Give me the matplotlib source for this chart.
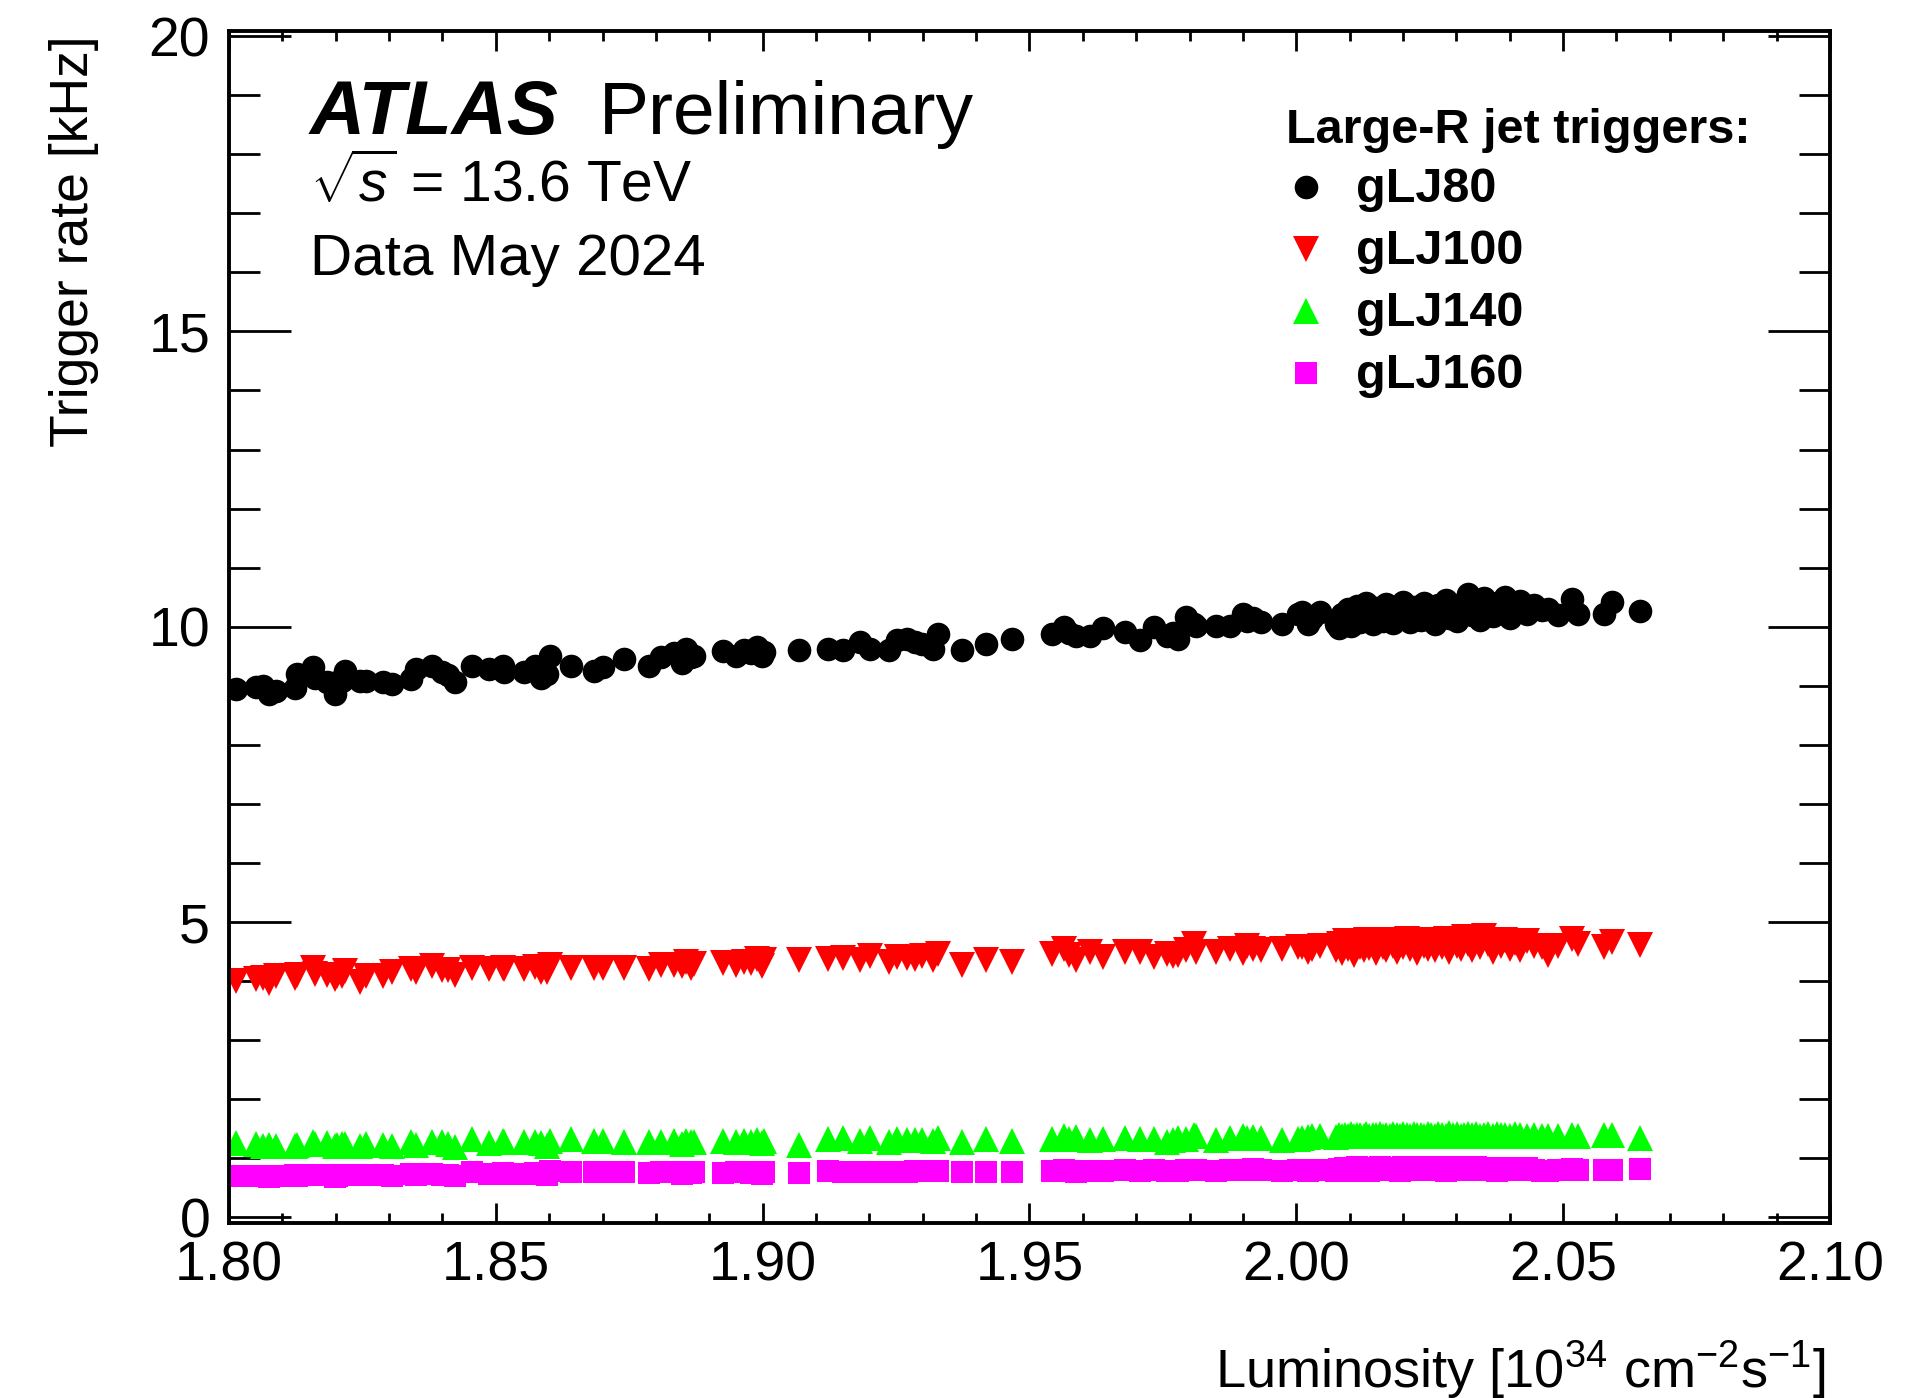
import matplotlib
matplotlib.use("Agg")
import matplotlib.pyplot as plt
from matplotlib.ticker import MultipleLocator

# luminosity of each lumi block [1e34 cm-2 s-1]
lumi = [
    1.8014, 1.8050, 1.8063, 1.8075, 1.8088, 1.8123, 1.8127, 1.8157, 1.8161, 1.8184,
    1.8198, 1.8203, 1.8212, 1.8217, 1.8245, 1.8257, 1.8288, 1.8305, 1.8342, 1.8350,
    1.8381, 1.8399, 1.8411, 1.8423, 1.8456, 1.8487, 1.8514, 1.8516, 1.8553, 1.8573,
    1.8585, 1.8595, 1.8601, 1.8640, 1.8684, 1.8701, 1.8740, 1.8787, 1.8809, 1.8833,
    1.8848, 1.8857, 1.8865, 1.8872, 1.8926, 1.8950, 1.8965, 1.8978, 1.8990, 1.8998,
    1.9003,
    1.9068, 1.9123, 1.9150, 1.9182, 1.9202, 1.9237, 1.9251, 1.9271, 1.9286, 1.9299,
    1.9320, 1.9328, 1.9374, 1.9418, 1.9468, 1.9543, 1.9564, 1.9574, 1.9588, 1.9614,
    1.9638, 1.9679, 1.9707, 1.9733, 1.9757, 1.9769, 1.9779, 1.9793, 1.9808, 1.9813,
    1.9849, 1.9875, 1.9901, 1.9907, 1.9918, 1.9933, 1.9973, 2.0004,
    2.0010, 2.0022, 2.0030, 2.0044,
    2.0075, 2.0080, 2.0086, 2.0091, 2.0097, 2.0103, 2.0108, 2.0114, 2.0120, 2.0126,
    2.0131, 2.0137, 2.0143, 2.0150, 2.0156, 2.0162, 2.0168, 2.0175, 2.0181, 2.0188,
    2.0194, 2.0200, 2.0207, 2.0213, 2.0220, 2.0226, 2.0233, 2.0240, 2.0246, 2.0253,
    2.0260, 2.0266, 2.0273, 2.0280, 2.0287, 2.0294, 2.0301, 2.0308, 2.0315, 2.0322,
    2.0330, 2.0337, 2.0345, 2.0352, 2.0360, 2.0368, 2.0376, 2.0384, 2.0392, 2.0401,
    2.0410, 2.0420, 2.0432, 2.0445, 2.0460,
    2.0472, 2.0490, 2.0516, 2.0528, 2.0577, 2.0591, 2.0644,
]

# trigger rates [kHz]
rate_glj80 = [
    8.94, 8.98, 9.00, 8.86, 8.92, 8.96, 9.20, 9.31, 9.14, 9.06,
    8.86, 9.06, 9.08, 9.25, 9.08, 9.08, 9.06, 9.03, 9.11, 9.28,
    9.34, 9.23, 9.18, 9.07, 9.34, 9.28, 9.34, 9.23, 9.23, 9.34,
    9.14, 9.20, 9.51, 9.34, 9.25, 9.31, 9.45, 9.34, 9.48, 9.56,
    9.39, 9.62, 9.48, 9.50, 9.59, 9.50, 9.60, 9.55, 9.65, 9.50,
    9.58,
    9.60, 9.63, 9.60, 9.74, 9.63, 9.60, 9.77, 9.80, 9.74, 9.70,
    9.63, 9.88, 9.60, 9.70, 9.79, 9.88, 9.99, 9.90, 9.85, 9.85,
    9.97, 9.91, 9.77, 9.99, 9.85, 9.90, 9.80, 10.16, 10.05, 10.02,
    10.02, 10.02, 10.22, 10.10, 10.14, 10.08, 10.05, 10.22,
    10.25, 10.05, 10.15, 10.25,
    10.05, 9.98, 10.22, 10.12, 10.30, 10.02, 10.18, 10.35, 10.08, 10.25,
    10.40, 10.15, 10.05, 10.32, 10.20, 10.10, 10.38, 10.22, 10.06, 10.28,
    10.15, 10.42, 10.20, 10.08, 10.33, 10.25, 10.12, 10.40, 10.18, 10.30,
    10.05, 10.36, 10.22, 10.45, 10.15, 10.28, 10.10, 10.38, 10.24, 10.55,
    10.20, 10.35, 10.12, 10.48, 10.28, 10.18, 10.40, 10.25, 10.50, 10.15,
    10.32, 10.44, 10.22, 10.36, 10.28,
    10.30, 10.20, 10.47, 10.22, 10.22, 10.42, 10.26,
]

rate_glj100 = [
    4.01, 4.03, 4.05, 3.97, 4.08, 4.05, 4.10, 4.22, 4.12, 4.10,
    4.03, 4.09, 4.09, 4.17, 3.99, 4.09, 4.08, 4.15, 4.21, 4.15,
    4.25, 4.19, 4.18, 4.11, 4.22, 4.21, 4.22, 4.20, 4.21, 4.24,
    4.15, 4.16, 4.28, 4.22, 4.22, 4.23, 4.23, 4.21, 4.27, 4.27,
    4.25, 4.33, 4.23, 4.29, 4.31, 4.28, 4.32, 4.30, 4.38, 4.25,
    4.35,
    4.35, 4.38, 4.39, 4.35, 4.42, 4.32, 4.40, 4.39, 4.38, 4.43,
    4.36, 4.46, 4.28, 4.36, 4.32, 4.46, 4.54, 4.44, 4.35, 4.49,
    4.41, 4.49, 4.49, 4.40, 4.46, 4.43, 4.44, 4.52, 4.62, 4.50,
    4.49, 4.54, 4.48, 4.60, 4.55, 4.52, 4.54, 4.57,
    4.57, 4.50, 4.54, 4.60,
    4.52, 4.62, 4.48, 4.68, 4.55, 4.60, 4.45, 4.66, 4.58, 4.52,
    4.70, 4.56, 4.63, 4.48, 4.67, 4.58, 4.53, 4.69, 4.60, 4.50,
    4.65, 4.57, 4.71, 4.54, 4.62, 4.48, 4.68, 4.59, 4.55, 4.70,
    4.52, 4.64, 4.58, 4.72, 4.50, 4.66, 4.60, 4.55, 4.74, 4.62,
    4.53, 4.68, 4.58, 4.76, 4.62, 4.50, 4.67, 4.59, 4.70, 4.55,
    4.64, 4.52, 4.68, 4.60, 4.57,
    4.44, 4.60, 4.71, 4.63, 4.57, 4.66, 4.61,
]

rate_glj140 = [
    1.26, 1.24, 1.20, 1.22, 1.20, 1.21, 1.23, 1.28, 1.24, 1.26,
    1.20, 1.23, 1.24, 1.24, 1.20, 1.24, 1.22, 1.20, 1.28, 1.23,
    1.27, 1.28, 1.25, 1.19, 1.32, 1.26, 1.30, 1.28, 1.27, 1.28,
    1.26, 1.20, 1.30, 1.33, 1.30, 1.30, 1.28, 1.27, 1.28, 1.30,
    1.25, 1.30, 1.27, 1.27, 1.30, 1.28, 1.30, 1.28, 1.31, 1.26,
    1.30,
    1.23, 1.32, 1.35, 1.30, 1.34, 1.27, 1.32, 1.31, 1.31, 1.31,
    1.30, 1.34, 1.27, 1.33, 1.30, 1.33, 1.37, 1.33, 1.36, 1.31,
    1.33, 1.35, 1.32, 1.33, 1.28, 1.31, 1.35, 1.33, 1.40, 1.37,
    1.31, 1.35, 1.38, 1.35, 1.36, 1.34, 1.31, 1.33,
    1.34, 1.36, 1.37, 1.38,
    1.36, 1.39, 1.37, 1.40, 1.38, 1.41, 1.37, 1.39, 1.40, 1.38,
    1.41, 1.37, 1.40, 1.39, 1.42, 1.38, 1.40, 1.37, 1.41, 1.39,
    1.38, 1.42, 1.40, 1.37, 1.41, 1.39, 1.40, 1.38, 1.42, 1.39,
    1.37, 1.41, 1.40, 1.38, 1.43, 1.39, 1.41, 1.38, 1.40, 1.42,
    1.39, 1.41, 1.37, 1.40, 1.42, 1.38, 1.41, 1.39, 1.40, 1.38,
    1.41, 1.39, 1.37, 1.40, 1.38,
    1.38, 1.37, 1.40, 1.38, 1.39, 1.40, 1.35,
]

rate_glj160 = [
    0.70, 0.70, 0.70, 0.68, 0.70, 0.72, 0.70, 0.72, 0.72, 0.71,
    0.68, 0.70, 0.72, 0.72, 0.72, 0.72, 0.71, 0.70, 0.73, 0.72,
    0.73, 0.72, 0.72, 0.70, 0.76, 0.74, 0.75, 0.74, 0.74, 0.75,
    0.73, 0.72, 0.78, 0.77, 0.76, 0.76, 0.76, 0.75, 0.76, 0.77,
    0.74, 0.77, 0.75, 0.76, 0.75, 0.76, 0.76, 0.75, 0.77, 0.74,
    0.76,
    0.75, 0.78, 0.77, 0.76, 0.77, 0.76, 0.77, 0.77, 0.78, 0.78,
    0.79, 0.79, 0.76, 0.77, 0.77, 0.78, 0.80, 0.78, 0.77, 0.79,
    0.78, 0.80, 0.79, 0.80, 0.79, 0.78, 0.79, 0.81, 0.81, 0.80,
    0.79, 0.81, 0.81, 0.80, 0.82, 0.80, 0.79, 0.80,
    0.80, 0.79, 0.81, 0.80,
    0.78, 0.82, 0.80, 0.84, 0.79, 0.83, 0.81, 0.85, 0.80, 0.82,
    0.84, 0.79, 0.83, 0.81, 0.86, 0.80, 0.82, 0.84, 0.81, 0.83,
    0.79, 0.85, 0.82, 0.80, 0.84, 0.81, 0.83, 0.86, 0.80, 0.82,
    0.84, 0.81, 0.85, 0.79, 0.83, 0.82, 0.86, 0.80, 0.84, 0.82,
    0.81, 0.85, 0.83, 0.80, 0.84, 0.82, 0.79, 0.83, 0.81, 0.84,
    0.82, 0.80, 0.83, 0.81, 0.79,
    0.79, 0.80, 0.82, 0.80, 0.80, 0.81, 0.82,
]

trigger_names = ["gLJ80", "gLJ100", "gLJ140", "gLJ160"]
trigger_rates = [rate_glj80, rate_glj100, rate_glj140, rate_glj160]
styles = [("o", "black", 17), ("v", "#ff0000", 19), ("^", "#00ff00", 19), ("s", "#ff00ff", 16)]

plt.rcParams["font.family"] = ["Liberation Sans", "DejaVu Sans"]
plt.rcParams["mathtext.fontset"] = "custom"
plt.rcParams["mathtext.rm"] = "Liberation Sans"
plt.rcParams["mathtext.it"] = "Liberation Sans:italic"
plt.rcParams["mathtext.bf"] = "Liberation Sans:bold"

fig = plt.figure(figsize=(19.05, 13.98), dpi=100)
ax = fig.add_axes([0.1202, 0.1254, 0.8404, 0.8526])

for rates, (marker, color, ms) in zip(trigger_rates, styles):
    ax.plot(lumi, rates, linestyle="none", marker=marker, color=color,
            markersize=ms, markeredgewidth=0)

ax.set_xlim(1.80, 2.10)
ax.set_ylim(-0.09, 20.09)
ax.xaxis.set_major_locator(MultipleLocator(0.05))
ax.xaxis.set_minor_locator(MultipleLocator(0.01))
ax.yaxis.set_major_locator(MultipleLocator(5))
ax.yaxis.set_minor_locator(MultipleLocator(1))
ax.xaxis.set_major_formatter(plt.FuncFormatter(lambda v, p: f"{v:.2f}"))

ax.tick_params(which="both", direction="in", top=True, right=True, width=2)
ax.tick_params(axis="x", which="major", length=14.4, pad=13, labelsize=40)
ax.tick_params(axis="x", which="minor", length=7.2)
ax.tick_params(axis="y", which="major", length=44.6, pad=13.5, labelsize=40)
ax.tick_params(axis="y", which="minor", length=22.3)
for sp in ax.spines.values():
    sp.set_linewidth(2.8)

# axis titles (ROOT style: aligned to the end of the axis)
fig.text(1826 / 1905, 1 - 1370 / 1398,
         r"Luminosity [10$^{34}$ cm$^{-2}$s$^{-1}$]",
         ha="right", va="center", fontsize=39)
fig.text(74 / 1905, 1 - 35 / 1398, "Trigger rate [kHz]",
         rotation=90, ha="center", va="top", fontsize=38.5)

# ATLAS label
ax.text(0.0506, 0.913, "ATLAS", transform=ax.transAxes, fontsize=55,
        fontweight="bold", fontstyle="italic", va="baseline")
ax.text(0.231, 0.913, "Preliminary", transform=ax.transAxes, fontsize=54,
        va="baseline")
ax.text(0.0506, 0.856, r"$\sqrt{s}$ = 13.6 TeV", transform=ax.transAxes,
        fontsize=41, va="baseline")
ax.text(0.0506, 0.795, "Data May 2024", transform=ax.transAxes,
        fontsize=42, va="baseline")

# legend
ax.text(0.660, 0.906, "Large-R jet triggers:", transform=ax.transAxes,
        fontsize=35, fontweight="bold", va="baseline")
leg_y = [0.869, 0.817, 0.765, 0.713]
for name, (marker, color, ms), yy in zip(trigger_names, styles, leg_y):
    ax.plot([0.6727], [yy], transform=ax.transAxes, linestyle="none",
            marker=marker, color=color, markersize=ms, markeredgewidth=0,
            clip_on=False)
    ax.text(0.704, yy - 0.013, name, transform=ax.transAxes, fontsize=35,
            fontweight="bold", va="baseline")

fig.savefig("out.png", dpi=100)
